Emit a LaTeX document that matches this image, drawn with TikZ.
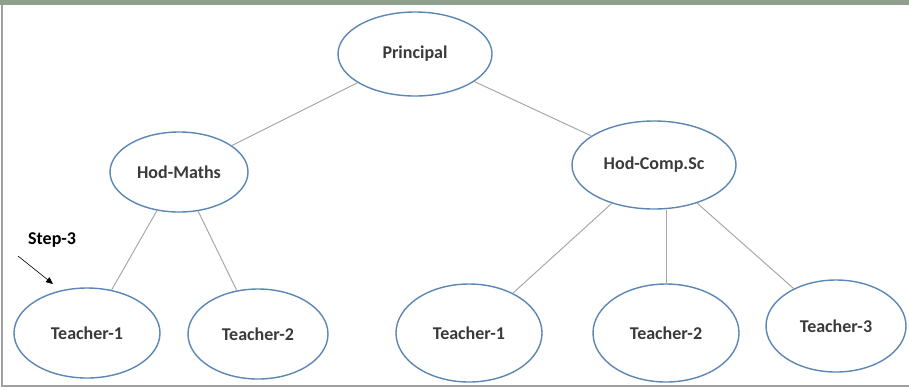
\documentclass[tikz,border=0pt]{standalone}
\usepackage{fontspec}
\setmainfont{Carlito}
\usetikzlibrary{arrows.meta, shapes.geometric}
\definecolor{ovalline}{HTML}{5B86B5}
\definecolor{linkline}{HTML}{A8A8A8}
\definecolor{txtgray}{HTML}{3A3A3A}
\definecolor{topbar}{HTML}{8FA08D}
\definecolor{frameline}{HTML}{A0A0A0}
\tikzset{
  oval/.style  = {ellipse, draw=ovalline, fill=white, line width=1.4pt, align=center,
                  font=\fontsize{18}{20}\selectfont\bfseries, text=txtgray, inner sep=0pt},
  link/.style  = {draw=linkline, line width=1pt},
  steplbl/.style = {font=\fontsize{18}{20}\selectfont\bfseries, text=black, inner sep=0pt},
  steparrow/.style = {-{Triangle[length=7pt, width=6pt]}, line width=0.6pt, draw=black},
}

\begin{document}
\begin{tikzpicture}[x=1pt, y=-1pt]
  \useasboundingbox (0,0) rectangle (909,389);
  % frame
  \fill[topbar] (0,0) rectangle (909,5);
  \draw[frameline, line width=1.5pt] (2,5) -- (2,386) -- (909,386);
  % nodes
  \node[oval, minimum width=154pt, minimum height=84pt] (principal) at (415,54) {Principal};
  \node[oval, minimum width=138pt, minimum height=80pt] (hodmaths) at (179,172) {Hod-Maths};
  \node[oval, minimum width=164pt, minimum height=88pt] (hodcomp) at (654,165) {Hod-Comp.Sc};
  \node[oval, minimum width=146pt, minimum height=90pt] (mt1) at (87,333) {Teacher-1};
  \node[oval, minimum width=140pt, minimum height=90pt] (mt2) at (258,334) {Teacher-2};
  \node[oval, minimum width=146pt, minimum height=98pt] (ct1) at (469,333) {Teacher-1};
  \node[oval, minimum width=146pt, minimum height=98pt] (ct2) at (666,333) {Teacher-2};
  \node[oval, minimum width=140pt, minimum height=92pt] (ct3) at (836,326) {Teacher-3};
  % links
  \foreach \a/\b in {principal/hodmaths, principal/hodcomp, hodmaths/mt1, hodmaths/mt2,
                     hodcomp/ct1, hodcomp/ct3}{\draw[link] (\a) -- (\b);}
  \draw[link] (hodcomp.south -| ct2) -- (ct2);
  % step marker
  \node[steplbl, anchor=west] (step) at (28,240) {Step-3};
  \coordinate (stepfrom) at (18,256);
  \coordinate (stepto) at (53,284);
  \draw[steparrow] (stepfrom) -- (stepto);
\end{tikzpicture}
\end{document}
